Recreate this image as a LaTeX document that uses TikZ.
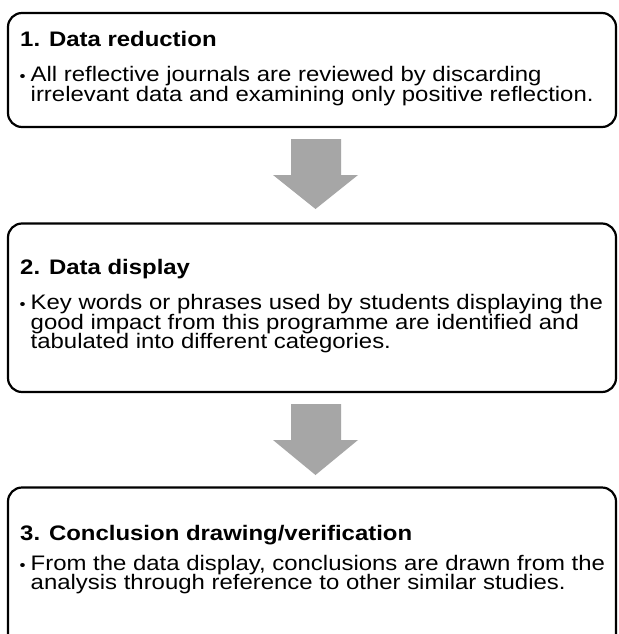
\documentclass[tikz,border=0pt]{standalone}
\usepackage{fontspec}
\setmainfont[FakeStretch=1.14]{Liberation Sans}
\definecolor{arrowgray}{HTML}{A6A6A6}
\tikzset{
  stagebox/.style={draw=black, line width=2.2pt, rounded corners=14pt, fill=none},
  ttl/.style={anchor=base west, inner sep=0pt, font=\fontsize{21}{19.5}\selectfont\bfseries},
  bodyline/.style={anchor=base west, inner sep=0pt, font=\fontsize{21}{19.5}\selectfont},
  bulletmark/.style={anchor=base west, inner sep=0pt, font=\fontsize{15}{15}\selectfont},
  blockarrow/.style={fill=arrowgray, draw=none}
}
\begin{document}
\begin{tikzpicture}[x=1pt,y=-1pt]
\useasboundingbox (0,0) rectangle (618,634);
\fill[white] (0,0) rectangle (618,634);
\clip (0,0) rectangle (618,634);

% boxes
\draw[stagebox] (8,13) rectangle (616,127);
\draw[stagebox] (8,223.5) rectangle (616,392);
\draw[stagebox] (8,487.5) rectangle (616,657);

% block arrows
\fill[blockarrow] (291,139) -- (341,139) -- (341,175) -- (358,175) -- (315.5,209) -- (273,175) -- (291,175) -- cycle;
\fill[blockarrow] (291,404) -- (341,404) -- (341,440) -- (358,440) -- (315.5,475) -- (273,440) -- (291,440) -- cycle;

% box 1
\node[ttl] (t1) at (20,46.7) {1. Data reduction};
\node[bulletmark] (u1) at (19.5,81.5) {•};
\node[bodyline] (l1a) at (30.5,81.5) {All reflective journals are reviewed by discarding};
\node[bodyline] (l1b) at (30.5,101) {irrelevant data and examining only positive reflection.};

% box 2
\node[ttl] (t2) at (20,274) {2. Data display};
\node[bulletmark] (u2) at (19.5,309.5) {•};
\node[bodyline] (l2a) at (30.5,309.5) {Key words or phrases used by students displaying the};
\node[bodyline] (l2b) at (30.5,329) {good impact from this programme are identified and};
\node[bodyline] (l2c) at (30.5,348.5) {tabulated into different categories.};

% box 3
\node[ttl] (t3) at (20,540.7) {3. Conclusion drawing/verification};
\node[bulletmark] (u3) at (19.5,570) {•};
\node[bodyline] (l3a) at (30.5,570) {From the data display, conclusions are drawn from the};
\node[bodyline] (l3b) at (30.5,589.5) {analysis through reference to other similar studies.};
\end{tikzpicture}
\end{document}
